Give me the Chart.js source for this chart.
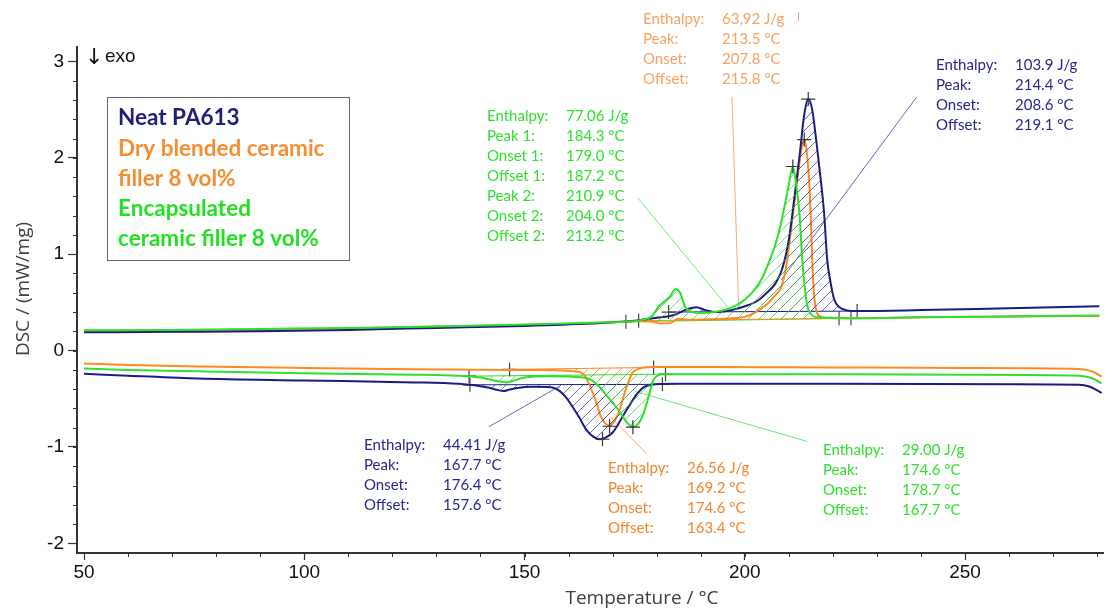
<!DOCTYPE html>
<html>
<head>
<meta charset="utf-8">
<script src="https://cdn.jsdelivr.net/npm/chart.js@4.4.1/dist/chart.umd.min.js"></script>
<style>
  html, body { margin: 0; padding: 0; background: #fff; }
  #wrap { width: 1112px; height: 611px; }
</style>
</head>
<body>
<div id="wrap"><canvas id="dsc" width="1112" height="611"></canvas></div>
<script>
// temperature (°C), heat flow (mW/mg)
const neatHeating = [[50,0.19],[70,0.195],[90,0.20],[110,0.215],[130,0.235],[150,0.255],[165,0.28],[175,0.31],[180,0.34],[184,0.37],[187,0.43],[189,0.45],[191,0.42],[194,0.40],[197,0.42],[200,0.46],[203,0.52],[205,0.60],[207,0.70],[208.5,0.85],[210,1.15],[211.3,1.6],[212.5,2.05],[213.5,2.45],[214.4,2.61],[215.3,2.5],[216.4,2.11],[217.3,1.75],[218,1.43],[218.7,0.95],[219.5,0.7],[220.3,0.53],[221.5,0.45],[223,0.42],[226,0.41],[240,0.42],[260,0.44],[280.5,0.46]];
const dryHeating = [[50,0.205],[70,0.21],[90,0.215],[110,0.23],[130,0.25],[150,0.265],[165,0.285],[176,0.305],[179,0.30],[181,0.28],[183,0.285],[185,0.33],[187,0.32],[192,0.325],[197,0.335],[200,0.35],[202.5,0.40],[205,0.48],[207,0.58],[208.3,0.66],[209.5,0.9],[210.5,1.25],[211.3,1.55],[212,1.8],[212.8,2.07],[213.5,2.19],[214.1,2.05],[214.6,1.77],[215,1.35],[215.3,0.95],[215.7,0.6],[216.2,0.42],[217,0.36],[218,0.34],[222,0.335],[240,0.345],[260,0.355],[280.5,0.36]];
const encHeating = [[50,0.21],[70,0.215],[90,0.225],[110,0.235],[130,0.25],[150,0.27],[165,0.29],[173,0.30],[177,0.32],[179,0.36],[180.5,0.46],[181.5,0.50],[183,0.56],[184.3,0.64],[185.3,0.60],[186.5,0.45],[188,0.40],[190,0.39],[193,0.40],[196,0.43],[198,0.47],[200,0.53],[202,0.62],[203.8,0.74],[205.5,0.92],[206.8,1.08],[208,1.28],[209,1.49],[210,1.72],[210.9,1.91],[211.6,1.75],[212.4,1.43],[213.1,0.91],[213.7,0.62],[214.2,0.46],[215,0.38],[216,0.35],[220,0.34],[224,0.335],[240,0.345],[260,0.355],[280.5,0.365]];

const neatCooling = [[50,-0.24],[60,-0.26],[76,-0.29],[100,-0.31],[125,-0.33],[135,-0.345],[137.5,-0.355],[140,-0.37],[142,-0.385],[144,-0.41],[145.3,-0.42],[146.5,-0.405],[148,-0.39],[152,-0.375],[156,-0.38],[158,-0.42],[159.5,-0.49],[161,-0.59],[162.5,-0.70],[164,-0.82],[165.5,-0.89],[167.3,-0.92],[168.5,-0.90],[170,-0.85],[171.2,-0.77],[172.3,-0.68],[173.8,-0.57],[175.2,-0.47],[176.5,-0.40],[177.5,-0.37],[179.7,-0.35],[185,-0.345],[220,-0.345],[260,-0.35],[276,-0.355],[278,-0.37],[279.5,-0.40],[281,-0.44]];
const dryCooling = [[50,-0.135],[60,-0.15],[76,-0.165],[100,-0.18],[130,-0.195],[146.6,-0.20],[155,-0.20],[160,-0.21],[162,-0.22],[163.3,-0.24],[164.5,-0.33],[165.5,-0.44],[166.5,-0.57],[167.3,-0.68],[168.2,-0.75],[169.2,-0.78],[170.3,-0.74],[171.4,-0.64],[172.2,-0.52],[173,-0.40],[173.8,-0.30],[174.5,-0.23],[175.8,-0.19],[177,-0.175],[179.3,-0.17],[190,-0.17],[220,-0.175],[250,-0.18],[276,-0.19],[278,-0.205],[279.5,-0.23],[281,-0.27]];
const encCooling = [[50,-0.185],[60,-0.20],[76,-0.215],[100,-0.235],[125,-0.25],[135,-0.26],[137,-0.265],[140,-0.28],[143,-0.31],[146,-0.33],[148,-0.305],[150,-0.28],[155,-0.265],[160,-0.27],[163.3,-0.28],[165,-0.30],[166.9,-0.37],[168.5,-0.46],[170,-0.54],[170.7,-0.58],[172,-0.66],[173.3,-0.75],[174.6,-0.79],[175.8,-0.76],[176.8,-0.68],[177.6,-0.57],[178.2,-0.47],[178.8,-0.37],[179.3,-0.30],[180.2,-0.26],[181.3,-0.245],[190,-0.245],[220,-0.245],[250,-0.25],[276,-0.26],[278,-0.275],[279.5,-0.30],[281,-0.34]];

// integration baselines (start / end points)
const neatHeatBase = [[182.7,0.40],[225.5,0.41]];
const dryHeatBase = [[175.9,0.31],[221.4,0.335]];
const encHeatBase = [[173,0.30],[224.1,0.335]];
const neatCoolBase = [[137.6,-0.355],[181.3,-0.35]];
const dryCoolBase = [[146.6,-0.195],[179.3,-0.175]];
const encCoolBase = [[137.4,-0.265],[182,-0.245]];

const peakPoints = [[214.4,2.61],[213.5,2.19],[210.9,1.91],[167.7,-0.92],[169.3,-0.785],[174.6,-0.795]];

const xTicks = [50, 100, 150, 200, 250];
const yTicks = [-2, -1, 0, 1, 2, 3];

const NAVY = '#1c1c80';
const ORANGE = '#ff8a1f';
const GREEN = '#2ee02e';

const legendLines = [
    ['Neat PA613', '#1f1f7a'],
    ['Dry blended ceramic', '#f48e33'],
    ['filler 8 vol%', '#f48e33'],
    ['Encapsulated', '#22e022'],
    ['ceramic filler 8 vol%', '#22e022']
];

const notes = [
    { x: 643, y: 19, color: '#f6a260', rows: [['Enthalpy:', '63,92 J/g'], ['Peak:', '213.5 °C'], ['Onset:', '207.8 °C'], ['Offset:', '215.8 °C']],
      leader: [[197.1, 2.63], [198.6, 0.45]], leaderColor: '#f8ad78' },
    { x: 487, y: 116, color: '#2fe02f', rows: [['Enthalpy:', '77.06 J/g'], ['Peak 1:', '184.3 °C'], ['Onset 1:', '179.0 °C'], ['Offset 1:', '187.2 °C'], ['Peak 2:', '210.9 °C'], ['Onset 2:', '204.0 °C'], ['Offset 2:', '213.2 °C']],
      leader: [[175.7, 1.585], [196.6, 0.425]], leaderColor: '#6ee86e' },
    { x: 936, y: 65, color: '#28288a', rows: [['Enthalpy:', '103.9 J/g'], ['Peak:', '214.4 °C'], ['Onset:', '208.6 °C'], ['Offset:', '219.1 °C']],
      leader: [[239, 2.63], [208.3, 0.735]], leaderColor: '#6a6ab4' },
    { x: 364, y: 445, color: '#28288a', rows: [['Enthalpy:', '44.41 J/g'], ['Peak:', '167.7 °C'], ['Onset:', '176.4 °C'], ['Offset:', '157.6 °C']],
      leader: [[141.9, -0.79], [157.9, -0.37]], leaderColor: '#6a6ab4' },
    { x: 608, y: 468, color: '#f4852c', rows: [['Enthalpy:', '26.56 J/g'], ['Peak:', '169.2 °C'], ['Onset:', '174.6 °C'], ['Offset:', '163.4 °C']],
      leader: [[177.7, -1.07], [169.6, -0.69]], leaderColor: '#f8ad78' },
    { x: 823, y: 450, color: '#2fe02f', rows: [['Enthalpy:', '29.00 J/g'], ['Peak:', '174.6 °C'], ['Onset:', '178.7 °C'], ['Offset:', '167.7 °C']],
      leader: [[214.2, -0.943], [175.2, -0.425]], leaderColor: '#6ee86e' }
];

function toXY(arr) {
    return arr.map(p => ({ x: p[0], y: p[1] }));
}

function hatch(color) {
    const s = 11;
    const c = document.createElement('canvas');
    c.width = s;
    c.height = s;
    const g = c.getContext('2d');
    g.strokeStyle = color;
    g.lineWidth = 1;
    g.beginPath();
    g.moveTo(0, s); g.lineTo(s, 0);
    g.moveTo(-1, 1); g.lineTo(1, -1);
    g.moveTo(s - 1, s + 1); g.lineTo(s + 1, s - 1);
    g.stroke();
    return g.createPattern(c, 'repeat');
}

function curve(data, color, baseIdx, side, pattern, order) {
    const fill = { target: baseIdx, above: 'rgba(0,0,0,0)', below: 'rgba(0,0,0,0)' };
    fill[side] = pattern;
    return {
        data: toXY(data), borderColor: color, borderWidth: 2, pointRadius: 0,
        cubicInterpolationMode: 'monotone', fill, order
    };
}

function baseline(data, color) {
    return {
        data: toXY(data), borderColor: color, borderWidth: 1, fill: false,
        pointStyle: 'cross', pointRadius: 7, pointBorderColor: '#444', pointBorderWidth: 1.2, order: 5
    };
}

const decorPlugin = {
    id: 'decor',
    beforeDatasetsDraw(chart) {
        const { ctx, scales: { x, y } } = chart;
        ctx.save();
        ctx.lineWidth = 1;
        notes.forEach(n => {
            ctx.strokeStyle = n.leaderColor;
            ctx.beginPath();
            ctx.moveTo(x.getPixelForValue(n.leader[0][0]), y.getPixelForValue(n.leader[0][1]));
            ctx.lineTo(x.getPixelForValue(n.leader[1][0]), y.getPixelForValue(n.leader[1][1]));
            ctx.stroke();
        });
        ctx.restore();
    },
    afterDraw(chart) {
        const { ctx, chartArea, scales: { x, y } } = chart;
        ctx.save();

        // minor ticks
        ctx.strokeStyle = '#333';
        ctx.lineWidth = 1;
        ctx.beginPath();
        for (let v = 50; v <= 280; v += 10) {
            const px = Math.round(x.getPixelForValue(v)) + 0.5;
            ctx.moveTo(px, chartArea.bottom);
            ctx.lineTo(px, chartArea.bottom + 4);
        }
        for (let v = -20; v <= 30; v += 2) {
            const py = Math.round(y.getPixelForValue(v / 10)) + 0.5;
            ctx.moveTo(chartArea.left - 4, py);
            ctx.lineTo(chartArea.left, py);
        }
        ctx.stroke();

        // axis titles
        ctx.fillStyle = '#404040';
        ctx.font = '19px "Open Sans"';
        ctx.textAlign = 'center';
        ctx.textBaseline = 'middle';
        ctx.fillText('Temperature / °C', 642, 599);
        ctx.save();
        ctx.translate(24, 289);
        ctx.rotate(-Math.PI / 2);
        ctx.fillText('DSC / (mW/mg)', 0, 0);
        ctx.restore();

        // exo marker
        ctx.fillStyle = '#111';
        ctx.textAlign = 'left';
        ctx.font = '22px "DejaVu Sans"';
        ctx.fillText('↓', 85, 58);
        ctx.font = '19px "Liberation Sans"';
        ctx.fillText('exo', 105, 57);

        // legend box
        ctx.strokeStyle = '#666';
        ctx.lineWidth = 1;
        ctx.strokeRect(107.5, 97.5, 242, 163);
        ctx.font = 'bold 22.5px Lato';
        legendLines.forEach((l, i) => {
            ctx.fillStyle = l[1];
            ctx.fillText(l[0], 118, 118 + i * 30.3);
        });

        // result blocks
        ctx.font = '15px Lato';
        notes.forEach(n => {
            ctx.fillStyle = n.color;
            n.rows.forEach((r, i) => {
                ctx.fillText(r[0], n.x, n.y + i * 20);
                ctx.fillText(r[1], n.x + 79, n.y + i * 20);
            });
        });
        ctx.strokeStyle = '#f6a260';
        ctx.beginPath();
        ctx.moveTo(798.5, 12);
        ctx.lineTo(798.5, 21);
        ctx.stroke();

        ctx.restore();
    }
};

function buildChart() {
    const navyHatch = 'rgba(50,50,150,0.7)';
    const orangeHatch = 'rgba(225,120,40,0.7)';
    const greenHatch = 'rgba(50,210,50,0.7)';
    const ds = [
        curve(neatHeating, NAVY, 6, 'above', hatch(navyHatch), 2),
        curve(dryHeating, ORANGE, 7, 'above', hatch(orangeHatch), 3),
        curve(encHeating, GREEN, 8, 'above', hatch(greenHatch), 1),
        curve(neatCooling, NAVY, 9, 'below', hatch(navyHatch), 2),
        curve(dryCooling, ORANGE, 10, 'below', hatch(orangeHatch), 3),
        curve(encCooling, GREEN, 11, 'below', hatch(greenHatch), 1),
        baseline(neatHeatBase, NAVY),
        baseline(dryHeatBase, ORANGE),
        baseline(encHeatBase, GREEN),
        baseline(neatCoolBase, NAVY),
        baseline(dryCoolBase, ORANGE),
        baseline(encCoolBase, GREEN),
        {
            data: toXY(peakPoints), showLine: false, pointStyle: 'cross', pointRadius: 7,
            pointBorderColor: '#333', pointBorderWidth: 1.2, order: 0
        }
    ];

    new Chart(document.getElementById('dsc'), {
        type: 'line',
        data: { datasets: ds },
        options: {
            responsive: false,
            animation: false,
            events: [],
            layout: { padding: { top: 47, right: 0, left: 0, bottom: 0 } },
            plugins: { legend: { display: false }, tooltip: { enabled: false } },
            scales: {
                x: {
                    type: 'linear', min: 48.4, max: 281.5,
                    afterBuildTicks: s => { s.ticks = xTicks.map(v => ({ value: v })); },
                    afterFit: s => { s.height = 58; },
                    ticks: { font: { family: 'Liberation Sans', size: 19 }, color: '#111', padding: 1, maxRotation: 0 },
                    grid: { drawOnChartArea: false, tickLength: 7, color: '#333', tickWidth: 1.2 },
                    border: { color: '#333', width: 2 }
                },
                y: {
                    type: 'linear', min: -2.1, max: 3.15,
                    afterBuildTicks: s => { s.ticks = yTicks.map(v => ({ value: v })); },
                    afterFit: s => { s.width = 77; },
                    ticks: { font: { family: 'Liberation Sans', size: 19 }, color: '#111', padding: 4 },
                    grid: { drawOnChartArea: false, tickLength: 9, color: '#333', tickWidth: 1.2 },
                    border: { color: '#333', width: 2 }
                }
            }
        },
        plugins: [decorPlugin]
    });
}

document.addEventListener('DOMContentLoaded', () => {
    Promise.all([
        document.fonts.load('15px Lato'),
        document.fonts.load('bold 22.5px Lato'),
        document.fonts.load('19px "Open Sans"'),
        document.fonts.load('19px "Liberation Sans"'),
        document.fonts.load('22px "DejaVu Sans"')
    ]).then(buildChart, buildChart);
});
</script>
</body>
</html>
